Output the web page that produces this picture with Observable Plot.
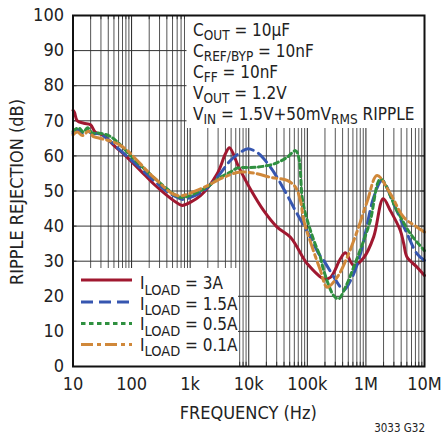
<!DOCTYPE html>
<html><head><meta charset="utf-8">
<script src="https://cdn.jsdelivr.net/npm/d3@7"></script>
<script src="https://cdn.jsdelivr.net/npm/@observablehq/plot@0.6"></script>
<style>body{margin:0;background:#fff}</style>
</head><body><div id="chart"></div>
<script>
const FONT = '"Liberation Sans Narrow","Arial Narrow","DejaVu Sans Condensed",sans-serif';

// I_LOAD = 3A
const freq3A = [10,10.6,11.8,15.3,19.9,24,33.6,49.7,84.1,142,239,405,639,730,1500,2890,4000,4690,6750,10700,18000,30500,51500,86900,99300,190000,248000,367000,447000,619000,917000,1.36e6,1.97e6,2.62e6,3.88e6,4.42e6,5.05e6,7.48e6,1e7];
const db3A   = [73,72.4,70,69.3,68.9,66.8,65.8,63,59.6,55.8,52,48.7,46.3,45.9,48.7,54.9,60.6,62.3,56.8,50.5,44.4,39.7,36.8,30.7,29.3,25,25.4,30.7,32.4,28.8,31,37,47.8,44.4,38.7,35,31.1,28.3,25.9];
// I_LOAD = 1.5A
const freq15A = [10,10.3,12.6,14.4,17.5,21.3,27.6,38.3,64.7,125,239,461,683,778,1706,2890,4870,7210,9390,13900,23400,39500,67000,113000,157000,190000,367000,418000,581000,806000,980000,1.36e6,1.89e6,2.98e6,5.05e6,7.48e6,1e7];
const db15A   = [66.5,66.8,67.4,66.3,67.2,66.3,66.3,64.9,61.5,57.3,53,49.2,47.8,47.6,50.1,53.9,58.7,61,62,61,56.8,50.6,43.5,36.8,32.1,30.2,22.6,21.7,25.4,32.1,38,48.2,53,46.3,37.8,32.1,30.2];
// I_LOAD = 0.5A
const freq05A = [10,12.4,15.1,17.7,21.5,27.2,43.6,125,405,683,1706,3290,4870,6340,13900,26700,45200,62700,71300,81500,92900,129000,167000,190000,282000,343000,447000,619000,917000,1.19e6,1.77e6,3.4e6,5.75e6,1e7];
const db05A   = [67,68,66.8,68,66.5,66.5,65.5,58.2,50.6,48.2,50.6,53.9,55.4,56.5,56.8,57.7,59.6,61.5,59.6,48.2,43.5,35.9,31.1,27.4,20.2,19.3,22.6,28.3,35.9,41.6,53.4,44.4,37.8,33];
// I_LOAD = 0.1A
const freq01A = [10,11.9,14.5,18.4,22.4,27.6,64.7,239,600,1500,3740,7210,13900,23400,45200,62700,76200,86900,113000,167000,218000,322000,478000,708000,1.05e6,1.55e6,2.62e6,4.42e6,7.48e6,1e7];
const db01A   = [66,66.8,65.8,67,65.5,65.1,63,53.9,48.7,50.6,53.9,55.4,54.9,53.9,53,51.1,47.3,41.6,35.5,27.4,22.6,25.4,31.1,38.5,47,54.4,49.2,42.5,39.7,38.3];

const seriesNames  = ["3A","1.5A","0.5A","0.1A"];
const seriesColors = ["#a01830","#3656b0","#2f9040","#d0883a"];
const seriesDash   = [null,"12,6","4.5,3.5","12,4,4,4"];

const xTickValues = [10,100,1e3,1e4,1e5,1e6,1e7];
const xTickLabels = ["10","100","1k","10k","100k","1M","10M"];
const yTickValues = [0,10,20,30,40,50,60,70,80,90,100];

const noteLines = [
  [["C",""],["OUT","s"],[" = 10µF",""]],
  [["C",""],["REF/BYP","s"],[" = 10nF",""]],
  [["C",""],["FF","s"],[" = 10nF",""]],
  [["V",""],["OUT","s"],[" = 1.2V",""]],
  [["V",""],["IN","s"],[" = 1.5V+50mV",""],["RMS","s"],[" RIPPLE",""]]
];

function rows(f, d, name) { return f.map((x, i) => ({f: x, db: d[i], s: name})); }
const series = [rows(freq3A, db3A, "3A"), rows(freq15A, db15A, "1.5A"), rows(freq05A, db05A, "0.5A"), rows(freq01A, db01A, "0.1A")];

const minorFreqs = [];
for (let e = 1; e < 7; e++) for (let k = 2; k <= 9; k++) minorFreqs.push(k * 10 ** e);

function subText(g, x, y, segs, size, subSize, drop) {
  const t = g.append("text").attr("x", x).attr("y", y).attr("text-anchor", "start")
    .attr("font-family", FONT).attr("font-size", size).attr("fill", "#222");
  let down = false;
  for (const [txt, kind] of segs) {
    const sp = t.append("tspan").text(txt);
    if (kind === "s") { sp.attr("font-size", subSize); if (!down) { sp.attr("dy", drop); down = true; } }
    else if (down) { sp.attr("dy", -drop); down = false; }
  }
  return t;
}

const ML = 72.5, MR = 17, MT = 15, MB = 70, W = 441, H = 436;

const lineMarks = series.map((data, i) => Plot.line(data, {
  x: "f", y: "db", stroke: seriesColors[i], strokeWidth: 3,
  strokeDasharray: seriesDash[i] ?? undefined, curve: "catmull-rom"
}));

const plot = Plot.plot({
  width: W, height: H,
  marginLeft: ML, marginRight: MR, marginTop: MT, marginBottom: MB,
  style: {fontFamily: FONT, fontSize: "18px", background: "white", color: "#222"},
  x: {type: "log", domain: [10, 1e7], ticks: xTickValues, tickFormat: d => xTickLabels[xTickValues.indexOf(d)] ?? "", tickSize: 0, tickPadding: 11, label: null},
  y: {domain: [0, 100], ticks: yTickValues, tickSize: 0, tickPadding: 9, label: null},
  marks: [
    Plot.ruleX(minorFreqs, {stroke: "#555", strokeWidth: 1}),
    Plot.ruleX(xTickValues, {stroke: "#222", strokeWidth: 1}),
    Plot.ruleY(yTickValues, {stroke: "#333", strokeWidth: 1}),
    Plot.ruleX(minorFreqs, {y1: 0, y2: 1.2, stroke: "#333", ariaLabel: "frame-ticks"}),
    Plot.ruleX(minorFreqs, {y1: 98.8, y2: 100, stroke: "#333"}),
    Plot.ruleY(yTickValues, {x1: 8.6e6, x2: 1e7, stroke: "#333"}),
    Plot.ruleY(yTickValues, {x1: 10, x2: 11.7, stroke: "#333"}),
    ...lineMarks,
    Plot.frame({stroke: "#111", strokeWidth: 2})
  ]
});
document.getElementById("chart").appendChild(plot);

// white backgrounds for the note block and the legend, placed under ticks and curves
const svg = d3.select(plot);
const before = plot.querySelector('[aria-label="frame-ticks"]') || plot.querySelector('[aria-label="line"]');
const bg = d3.select(plot.insertBefore(document.createElementNS("http://www.w3.org/2000/svg", "g"), before));
bg.append("rect").attr("x", ML).attr("y", 268).attr("width", 238 - ML).attr("height", H - MB - 268).attr("fill", "white");
bg.append("rect").attr("x", 186.5).attr("y", MT).attr("width", W - MR - 186.5).attr("height", 128 - MT).attr("fill", "white");

const ann = svg.append("g");
noteLines.forEach((segs, i) => subText(ann, 193, 35.5 + i * 21, segs, 17, 13.5, 4));
const ly = [280, 302, 323.5, 344.5];
const lb = [289, 309.5, 330, 350.5];
seriesNames.forEach((n, i) => {
  ann.append("line").attr("x1", 81).attr("x2", 132).attr("y1", ly[i]).attr("y2", ly[i])
    .attr("stroke", seriesColors[i]).attr("stroke-width", 3.2)
    .attr("stroke-dasharray", seriesDash[i]);
  subText(ann, 140, lb[i], [["I",""],["LOAD","s"],[" = " + n,""]], 17, 14.5, 5.5);
});
ann.append("text").attr("x", (ML + W - MR) / 2).attr("y", 419).attr("text-anchor", "middle")
  .attr("font-family", FONT).attr("font-size", 18).attr("fill", "#222").text("FREQUENCY (Hz)");
ann.append("text").attr("transform", "translate(23,192) rotate(-90)").attr("text-anchor", "middle")
  .attr("font-family", FONT).attr("font-size", 18).attr("fill", "#222")
  .attr("textLength", 186).attr("lengthAdjust", "spacingAndGlyphs").text("RIPPLE REJECTION (dB)");
ann.append("text").attr("x", 425).attr("y", 432).attr("text-anchor", "end")
  .attr("font-family", FONT).attr("font-size", 11.5).attr("fill", "#222").text("3033 G32");
</script>
</body></html>
